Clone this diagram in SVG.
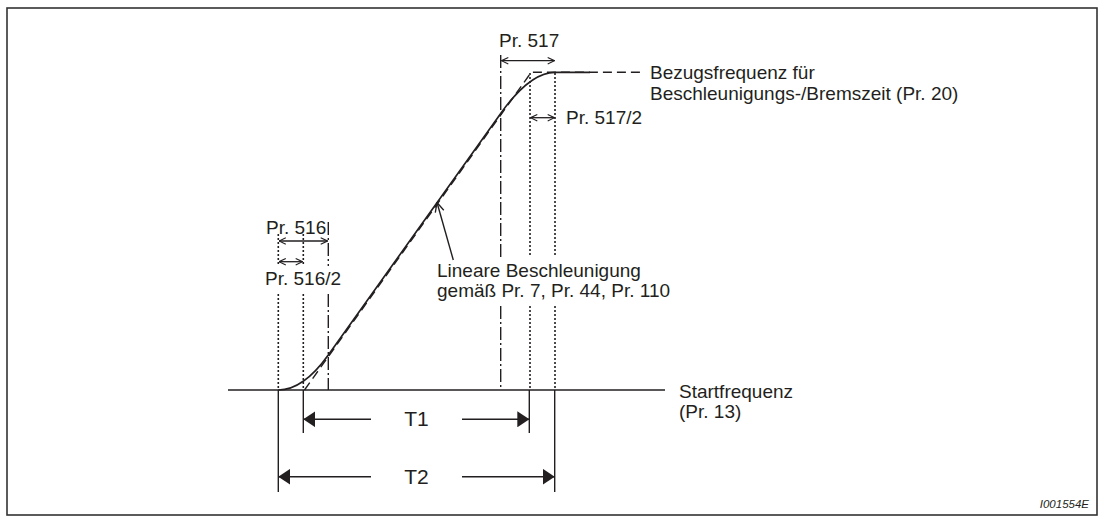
<svg xmlns="http://www.w3.org/2000/svg" width="1104" height="523" viewBox="0 0 1104 523">
<style>
text{font-family:"Liberation Sans",Arial,sans-serif;font-size:19px;fill:#231f20}
.big{font-size:21px}
.id{font-size:11.5px;font-style:italic}
.ln{stroke:#231f20;stroke-width:1.4;fill:none}
.dot{stroke:#231f20;stroke-width:1.6;fill:none;stroke-dasharray:2 2}
.dd{stroke:#231f20;stroke-width:1.4;fill:none;stroke-dasharray:13 3 2 3}
.dash{stroke:#231f20;stroke-width:1.4;fill:none;stroke-dasharray:9 5}
.dim{stroke:#231f20;stroke-width:1.3;fill:none;marker-start:url(#oa);marker-end:url(#oa)}
.dimT{stroke:#231f20;stroke-width:1.6;fill:none}
</style>
<defs>
<marker id="oa" viewBox="0 0 10 10" refX="9.5" refY="5" markerWidth="8" markerHeight="8" markerUnits="userSpaceOnUse" orient="auto-start-reverse">
<path d="M1,1 L9.5,5 L1,9" fill="none" stroke="#231f20" stroke-width="1.4"/>
</marker>
<marker id="oa2" viewBox="0 0 10 10" refX="9.5" refY="5" markerWidth="11" markerHeight="11" markerUnits="userSpaceOnUse" orient="auto">
<path d="M1,1 L9.5,5 L1,9" fill="none" stroke="#231f20" stroke-width="1.2"/>
</marker>
<marker id="sa" viewBox="0 0 12 16" refX="12" refY="8" markerWidth="12" markerHeight="16" markerUnits="userSpaceOnUse" orient="auto-start-reverse">
<path d="M0,0 L12,8 L0,16 Z" fill="#231f20"/>
</marker>
</defs>
<rect x="7" y="8" width="1090" height="507" fill="none" stroke="#333" stroke-width="1.6"/>
<g id="connectors">
<!-- axis -->
<line class="ln" x1="228" y1="390" x2="665" y2="390"/>
<!-- dotted / dash-dot guide lines -->
<line class="dot" x1="278.3" y1="234" x2="278.3" y2="266"/>
<line class="dot" x1="278.3" y1="294" x2="278.3" y2="390"/>
<line class="dot" x1="303.3" y1="234" x2="303.3" y2="266"/>
<line class="dot" x1="303.3" y1="294" x2="303.3" y2="390"/>
<line class="dd" x1="328.3" y1="222" x2="328.3" y2="266"/>
<line class="dd" x1="328.3" y1="294" x2="328.3" y2="390"/>
<line class="dd" x1="500.7" y1="55" x2="500.7" y2="257"/>
<line class="dd" x1="500.7" y1="306" x2="500.7" y2="390"/>
<line class="dot" x1="530" y1="73" x2="530" y2="257"/>
<line class="dot" x1="530" y1="306" x2="530" y2="390"/>
<line class="dot" x1="555" y1="73" x2="555" y2="257"/>
<line class="dot" x1="555" y1="306" x2="555" y2="390"/>
<!-- linear ramp (dashed) -->
<path class="dash" d="M304.5,390 L531.2,72.3 L643,72.3"/>
<!-- S-curve -->
<path d="M278.3,390 Q303.3,390 328.3,355 L500.7,113.4 Q530,72.3 555,72.3 L590,72.3" fill="none" stroke="#231f20" stroke-width="1.7"/>
<!-- pointer -->
<line x1="453.3" y1="260" x2="437" y2="202.5" stroke="#231f20" stroke-width="1.4" marker-end="url(#oa2)"/>
<!-- dimension arrows -->
<line class="dim" x1="501.5" y1="60.7" x2="554.5" y2="60.7"/>
<line class="dim" x1="530.5" y1="117.7" x2="554.5" y2="117.7"/>
<line class="dim" x1="279" y1="241" x2="327.5" y2="241"/>
<line class="dim" x1="279" y1="261.7" x2="302.5" y2="261.7"/>
<!-- T1 / T2 -->
<line class="ln" x1="278.3" y1="390" x2="278.3" y2="492"/>
<line class="ln" x1="303.3" y1="390" x2="303.3" y2="433"/>
<line class="ln" x1="529.3" y1="390" x2="529.3" y2="433"/>
<line class="ln" x1="554.7" y1="390" x2="554.7" y2="492"/>
<line class="dimT" x1="371" y1="419.3" x2="303.3" y2="419.3" marker-end="url(#sa)"/>
<line class="dimT" x1="462" y1="419.3" x2="529.3" y2="419.3" marker-end="url(#sa)"/>
<line class="dimT" x1="371" y1="476.7" x2="278.3" y2="476.7" marker-end="url(#sa)"/>
<line class="dimT" x1="462" y1="476.7" x2="554.7" y2="476.7" marker-end="url(#sa)"/>
</g>
<g id="lbl-pr517"><text x="499" y="47">Pr. 517</text></g>
<g id="lbl-bezug"><text x="650" y="79">Bezugsfrequenz für</text><text x="650" y="100">Beschleunigungs-/Bremszeit (Pr. 20)</text></g>
<g id="lbl-pr517-2"><text x="566" y="124">Pr. 517/2</text></g>
<g id="lbl-pr516"><text x="266" y="234">Pr. 516</text></g>
<g id="lbl-pr516-2"><text x="265" y="285">Pr. 516/2</text></g>
<g id="lbl-linear"><text x="437" y="277">Lineare Beschleunigung</text><text x="437" y="297">gemäß Pr. 7, Pr. 44, Pr. 110</text></g>
<g id="lbl-start"><text x="679" y="398">Startfrequenz</text><text x="679" y="418">(Pr. 13)</text></g>
<g id="lbl-t1"><text class="big" x="416.5" y="426" text-anchor="middle">T1</text></g>
<g id="lbl-t2"><text class="big" x="416.5" y="484" text-anchor="middle">T2</text></g>
<g id="lbl-id"><text class="id" x="1089" y="508" text-anchor="end">I001554E</text></g>
</svg>
